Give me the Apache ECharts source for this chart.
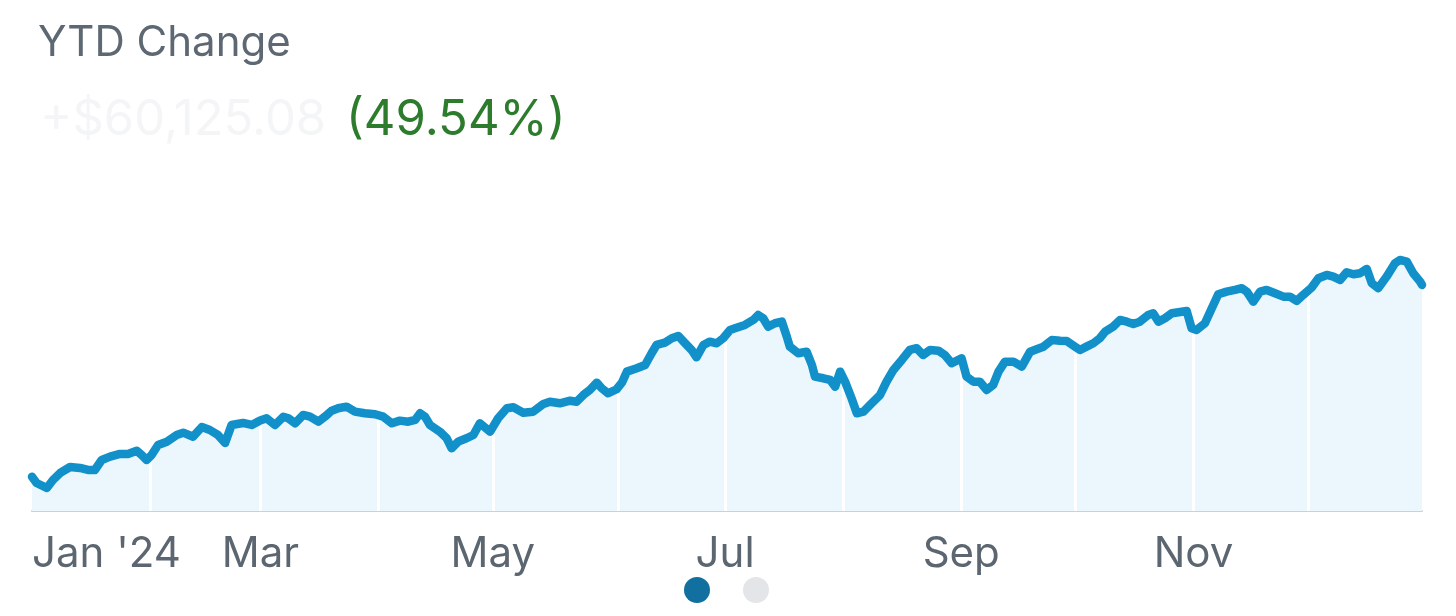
<!DOCTYPE html>
<html>
<head>
<meta charset="utf-8">
<script src="https://cdn.jsdelivr.net/npm/echarts@6/dist/echarts.min.js"></script>
<style>
html,body{margin:0;padding:0;background:#fff;}
#chart{width:1456px;height:616px;}
</style>
</head>
<body>
<div id="chart"></div>
<script>
// Day of year 2024 (0 = Jan 1) for each sampled point
const dayOfYear = [0,1.2,3.9,5.5,7.4,10,12.6,14.7,16.5,18.3,20.5,23.1,25.2,27.5,28.8,30.1,31.4,33.1,35.4,38,39.7,42.3,44.6,46.7,48.8,50.7,52.4,55.4,57.7,59.9,61.6,63.8,66,67.3,69.1,71.2,73,75.2,76.9,78.7,80.4,82.6,84.8,87.4,90.1,92.2,94.5,96.6,98.8,100.6,101.9,103.2,104.5,107.1,108.9,110.2,111.9,114.1,115.9,117.6,120.3,122.4,124.7,126.4,129,131.6,134.3,136,138.6,141.3,143,144.8,146.5,148.3,149.6,151.3,153.5,154.9,156.2,158.8,161,162.7,164,166.2,168,169.7,171.5,173.2,174.5,176.3,178,179.8,181.5,183.3,184.6,187.2,189.4,190.7,192,193.3,195.1,196.9,198.2,199,201.2,203.4,204.8,205.6,207.8,209.6,210.9,212.2,213.5,215.2,216.6,218.3,220.5,222.7,224.4,226.2,228.4,230.5,232.3,234,235.8,238,239.7,241.5,243.2,244.1,245.4,247.2,248.9,250.7,252.4,253.8,255.5,257.7,259.9,262.1,263.8,265.6,267.8,270,271.7,273.9,275.2,276.9,278.7,280.4,281.8,283.9,285.7,287.5,289.2,290.9,293.1,294.4,295.8,297.5,299.3,301.5,303.2,304.5,305.8,308,309.8,311.5,313.7,315.9,317.7,319,320.7,322.5,324.2,326.4,328.6,330.3,332.1,333.8,336,337.8,340,341.7,343.5,345.2,347,348.7,350.5,351.8,353.5,355.7,357.9,359.2,361,362.7,364.5,365];
// YTD change, percent
const ytdPct = [-0.18,-1.82,-3.11,-1.04,0.78,2.33,2.08,1.56,1.56,4.15,5.01,5.71,5.71,6.56,5.45,4.15,5.45,8.04,8.9,10.64,11.23,10.19,12.71,11.93,10.64,8.56,13.23,13.75,13.23,14.4,14.97,13.23,15.38,14.97,13.67,15.82,15.38,14.09,15.38,16.94,17.56,17.98,16.68,16.26,16,15.38,13.67,14.35,14.09,14.53,16.26,15.38,13.23,11.49,9.78,7.19,8.9,9.78,10.64,13.67,11.49,14.97,17.56,17.82,16.42,16.68,18.68,19.27,18.86,19.53,19.27,21.01,22.31,24.2,22.75,21.45,22.49,24.2,27.06,27.94,28.79,31.83,33.98,34.58,35.72,36.32,34.42,32.68,30.79,33.98,34.84,34.42,35.72,37.87,38.31,39.17,40.47,41.76,40.91,38.73,39.61,40.03,36.14,33.54,31.83,32.24,28.79,25.76,25.34,24.9,23.16,27.06,24.46,20.16,16.26,16.68,18.86,21.01,24.46,27.5,30.09,32.68,33.13,31.39,32.68,32.5,31.39,29.24,30.09,30.53,25.76,24.46,24.46,22.31,23.61,27.06,29.65,29.65,28.35,32.24,32.87,33.54,35.28,35.1,35.02,33.54,32.68,33.54,34.42,35.72,37.43,38.73,40.47,40.03,39.43,40.03,41.76,42.21,40.03,40.91,42.21,42.54,42.8,38.31,37.87,39.61,43.5,47.13,47.81,48.25,48.69,47.81,45.21,47.81,48.25,47.39,46.51,46.51,45.4,46.95,48.85,51.28,52.14,51.7,50.84,52.84,52.32,52.58,53.7,49.99,48.69,51.7,55.18,56.03,55.59,52.58,50.4,49.54];
// Month boundaries (first trading day, day of year)
const monthStartDays = [31,60,91,121,154,182,213,244,274,305,335];
// Axis tick labels
const tickDays = [0,60,121,182,244,305];
const tickLabels = ["Jan '24","Mar","May","Jul","Sep","Nov"];

const titleText = "YTD Change";
const amountText = "+$60,125.08";
const pctText = "(49.54%)";

const seriesData = dayOfYear.map((d, i) => [d, ytdPct[i]]);

const chart = echarts.init(document.getElementById('chart'));
const FONT = 'Inter, "Noto Sans", sans-serif';
chart.setOption({
  animation: false,
  backgroundColor: '#ffffff',
  grid: { left: 32, right: 34, top: 240, bottom: 105, containLabel: false },
  xAxis: {
    type: 'value', min: 0, max: 365,
    axisLine: { show: true, onZero: false, lineStyle: { color: '#c9d2da', width: 2 } },
    axisTick: { show: false },
    splitLine: { show: false },
    axisLabel: {
      customValues: tickDays,
      alignMinLabel: 'left',
      color: '#5b6670', fontSize: 42, fontFamily: FONT, margin: 22,
      formatter: function (v) {
        const i = tickDays.indexOf(v);
        return i >= 0 ? tickLabels[i] : '';
      }
    }
  },
  yAxis: { type: 'value', min: -9.08, max: 61.2, show: false, splitLine: { show: false } },
  series: [
    {
      type: 'line', data: seriesData, showSymbol: false, silent: true,
      lineStyle: { width: 0 },
      areaStyle: { color: '#ebf7fd', origin: 'start', opacity: 1 },
      z: 2,
      markLine: {
        silent: true, symbol: ['none', 'none'], animation: false,
        label: { show: false },
        lineStyle: { color: '#ffffff', width: 3, type: 'solid' },
        emphasis: { disabled: true },
        data: monthStartDays.map(d => ({ xAxis: d }))
      }
    },
    {
      type: 'line', data: seriesData, showSymbol: false, silent: true,
      lineStyle: { width: 8.5, color: '#1290c9', cap: 'round', join: 'round' },
      z: 5
    }
  ],
  graphic: [
    { type: 'text', left: 38, top: 22, style: { text: titleText, fill: '#5d6873', font: '400 42px ' + FONT } },
    { type: 'text', left: 40, top: 96, style: { text: amountText, fill: '#f4f5f6', font: '400 49px ' + FONT } },
    { type: 'text', left: 346, top: 96, style: { text: pctText, fill: '#2d7b2d', font: '400 49px ' + FONT } },
    { type: 'circle', shape: { cx: 697, cy: 590, r: 13 }, style: { fill: '#11709f' } },
    { type: 'circle', shape: { cx: 756, cy: 590, r: 13 }, style: { fill: '#e4e5e8' } }
  ]
});
</script>
</body>
</html>
